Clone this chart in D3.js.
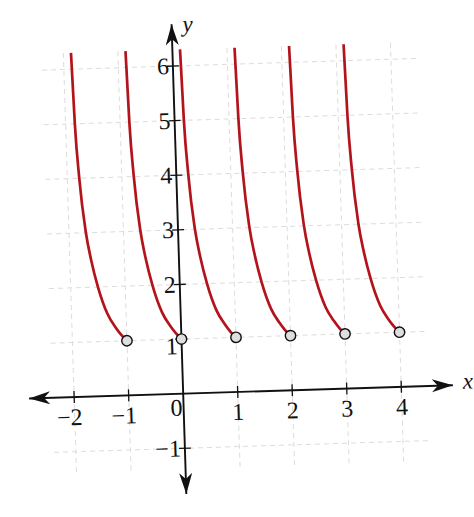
<!DOCTYPE html>
<html>
<head>
<meta charset="utf-8">
<script src="https://cdn.jsdelivr.net/npm/d3@7"></script>
<style>
  html, body { margin: 0; padding: 0; background: #fff; }
  svg { display: block; }
</style>
</head>
<body>
<div id="chart"></div>
<script>
// integer starts of each branch, and the shape of one branch
const branchStarts = [-2, -1, 0, 1, 2, 3];
const branchShape = [
    [0.14, 6.3], [0.17, 5.0], [0.22, 4.0], [0.31, 3.0], [0.39, 2.5],
    [0.5, 2.0], [0.66, 1.5], [0.8, 1.25], [0.9, 1.11], [1.0, 1.0]
];
const openPoints = [[-1, 1], [0, 1], [1, 1], [2, 1], [3, 1], [4, 1]];
const xTicks = [-2, -1, 1, 2, 3, 4];
const yTicks = [-1, 1, 2, 3, 4, 5, 6];
const gridX = [-2, -1, 0, 1, 2, 3, 4];
const gridY = [-1, 0, 1, 2, 3, 4, 5, 6];

const width = 474, height = 517;
const serif = "'Liberation Serif', 'Times New Roman', 'DejaVu Serif', serif";

const svg = d3.select("#chart")
    .append("svg")
    .attr("width", width)
    .attr("height", height);

const x = d3.scaleLinear().domain([-2.9, 5.02]).range([25, 457]);
const y = d3.scaleLinear().domain([-1.91, 6.84]).range([498, 20]);

const defs = svg.append("defs");
defs.append("marker")
    .attr("id", "arrow")
    .attr("viewBox", "-22 -8 24 16")
    .attr("refX", 0)
    .attr("refY", 0)
    .attr("markerWidth", 24)
    .attr("markerHeight", 16)
    .attr("markerUnits", "userSpaceOnUse")
    .attr("orient", "auto-start-reverse")
    .append("path")
    .attr("d", "M0,0 L-21,-6.5 L-15,0 L-21,6.5 Z")
    .attr("fill", "#111");

// scan is slightly tilted
const chart = svg.append("g")
    .attr("transform", `rotate(-1.8, ${x(0)}, ${y(0)})`);

// faint dashed grid
chart.append("g")
    .selectAll("line")
    .data(gridX)
    .enter()
    .append("line")
    .attr("x1", d => x(d)).attr("x2", d => x(d))
    .attr("y1", y(6.3)).attr("y2", y(-1.4))
    .attr("stroke", "#dcdcdc")
    .attr("stroke-width", 1)
    .attr("stroke-dasharray", "5,4");

chart.append("g")
    .selectAll("line")
    .data(gridY)
    .enter()
    .append("line")
    .attr("x1", x(-2.4)).attr("x2", x(4.5))
    .attr("y1", d => y(d)).attr("y2", d => y(d))
    .attr("stroke", "#dcdcdc")
    .attr("stroke-width", 1)
    .attr("stroke-dasharray", "5,4");

// axes with arrows at both ends
chart.append("line")
    .attr("x1", x(-2.9) + 4).attr("x2", x(5.02) - 4)
    .attr("y1", y(0)).attr("y2", y(0))
    .attr("stroke", "#111")
    .attr("stroke-width", 1.9)
    .attr("marker-start", "url(#arrow)")
    .attr("marker-end", "url(#arrow)");

chart.append("line")
    .attr("x1", x(0)).attr("x2", x(0))
    .attr("y1", y(6.84) + 4).attr("y2", y(-1.91) - 4)
    .attr("stroke", "#111")
    .attr("stroke-width", 1.9)
    .attr("marker-start", "url(#arrow)")
    .attr("marker-end", "url(#arrow)");

// ticks
chart.append("g")
    .selectAll("line")
    .data(xTicks)
    .enter()
    .append("line")
    .attr("x1", d => x(d)).attr("x2", d => x(d))
    .attr("y1", y(0) - 6).attr("y2", y(0) + 6)
    .attr("stroke", "#111")
    .attr("stroke-width", 1.3);

chart.append("g")
    .selectAll("line")
    .data(yTicks)
    .enter()
    .append("line")
    .attr("x1", x(0) - 6).attr("x2", x(0) + 6)
    .attr("y1", d => y(d)).attr("y2", d => y(d))
    .attr("stroke", "#111")
    .attr("stroke-width", 1.3);

const fmt = d => d < 0 ? "\u2212" + Math.abs(d) : String(d);

chart.append("g")
    .selectAll("text")
    .data(xTicks)
    .enter()
    .append("text")
    .attr("x", d => x(d) - (d < 0 ? 5 : 0))
    .attr("y", y(0) + 28)
    .attr("text-anchor", "middle")
    .style("font-family", serif)
    .style("font-size", "24px")
    .style("fill", "#111")
    .text(fmt);

chart.append("text")
    .attr("x", x(0) - 1)
    .attr("y", y(0) + 22)
    .attr("text-anchor", "end")
    .style("font-family", serif)
    .style("font-size", "24px")
    .style("fill", "#111")
    .text("0");

chart.append("g")
    .selectAll("text")
    .data(yTicks)
    .enter()
    .append("text")
    .attr("x", x(0) - 4)
    .attr("y", d => y(d) + (d === 1 ? 15 : 8))
    .attr("text-anchor", "end")
    .style("font-family", serif)
    .style("font-size", "24px")
    .style("fill", "#111")
    .text(fmt);

chart.append("text")
    .attr("x", x(5.02) + 6)
    .attr("y", y(0) + 4)
    .style("font-family", serif)
    .style("font-style", "italic")
    .style("font-size", "23px")
    .style("fill", "#111")
    .text("x");

chart.append("text")
    .attr("x", x(0) + 11)
    .attr("y", y(6.84) + 12)
    .style("font-family", serif)
    .style("font-style", "italic")
    .style("font-size", "23px")
    .style("fill", "#111")
    .text("y");

// curve branches
const line = d3.line()
    .x(d => x(d[0]))
    .y(d => y(d[1]))
    .curve(d3.curveMonotoneX);

chart.append("g")
    .selectAll("path")
    .data(branchStarts)
    .enter()
    .append("path")
    .attr("d", s => line(branchShape.map(p => [s + p[0], p[1]])))
    .attr("fill", "none")
    .attr("stroke", "#b3141c")
    .attr("stroke-width", 2.7);

chart.append("g")
    .selectAll("circle")
    .data(openPoints)
    .enter()
    .append("circle")
    .attr("cx", d => x(d[0]))
    .attr("cy", d => y(d[1]))
    .attr("r", 5.2)
    .attr("fill", "#dedede")
    .attr("stroke", "#111")
    .attr("stroke-width", 1.4);
</script>
</body>
</html>
